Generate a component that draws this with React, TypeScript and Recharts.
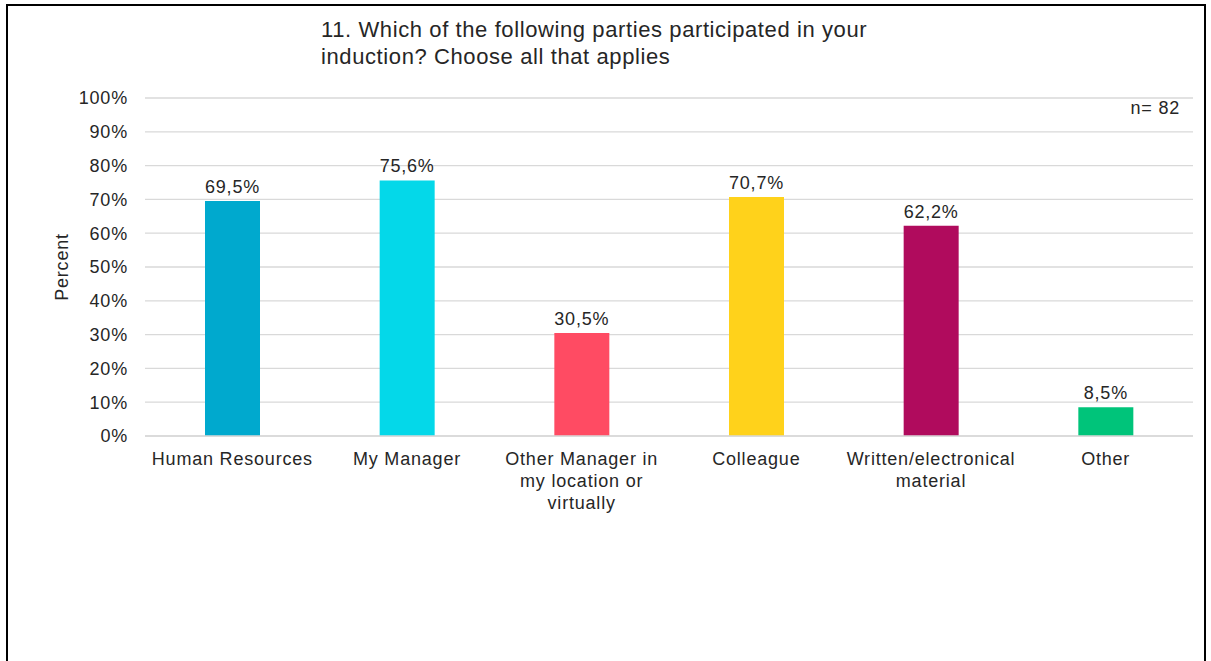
import { BarChart, Bar, XAxis, YAxis, CartesianGrid, LabelList, Cell } from 'recharts'

const categories = ['Human Resources', 'My Manager', 'Other Manager in my location or virtually', 'Colleague', 'Written/electronical material', 'Other']
const tickLines = [
  ['Human Resources'],
  ['My Manager'],
  ['Other Manager in', 'my location or', 'virtually'],
  ['Colleague'],
  ['Written/electronical', 'material'],
  ['Other'],
]
const percents = [69.5, 75.6, 30.5, 70.7, 62.2, 8.5]
const barColors = ['#00a9ce', '#04d8e9', '#ff4b63', '#ffd21b', '#b00b5d', '#00c47a']
const yTicks = [0, 10, 20, 30, 40, 50, 60, 70, 80, 90, 100]
const titleLines = ['11. Which of the following parties participated in your', 'induction? Choose all that applies']

const font = '"Liberation Sans", Arial, sans-serif'
const textColor = '#262626'
const spacing = 0.8

const chartData = categories.map((name, i) => ({ name, value: percents[i], idx: i }))

function CategoryTick({ x, y, payload }: any) {
  const lines = tickLines[payload.index] || [payload.value]
  return (
    <text x={x} y={y} textAnchor="middle" fill={textColor} fontSize={18} fontFamily={font} letterSpacing={spacing}>
      {lines.map((line, i) => (
        <tspan key={i} x={x} dy={i === 0 ? 21 : 22}>{line}</tspan>
      ))}
    </text>
  )
}

export default function App() {
  return (
    <div style={{ position: 'absolute', left: 0, top: 0, width: 1211, height: 661, overflow: 'hidden', background: '#fff', fontFamily: font }}>
      <div style={{ position: 'absolute', left: 6, top: 4, width: 1196, height: 700, border: '2px solid #000' }} />
      <div style={{ position: 'absolute', left: 0, top: 0 }}>
        <BarChart width={1211} height={661} data={chartData} margin={{ top: 98, right: 18, bottom: 0, left: 0 }} barSize={55}>
          <text x={321} y={37} fontSize={22} fill={textColor} fontFamily={font} letterSpacing={0.6}>{titleLines[0]}</text>
          <text x={321} y={64} fontSize={22} fill={textColor} fontFamily={font} letterSpacing={0.6}>{titleLines[1]}</text>
          <text x={1180} y={114} fontSize={18} fill={textColor} fontFamily={font} letterSpacing={spacing} textAnchor="end">n= 82</text>
          <CartesianGrid vertical={false} stroke="#d9d9d9" strokeWidth={1.3} />
          <XAxis
            dataKey="name"
            height={225}
            axisLine={{ stroke: '#d9d9d9', strokeWidth: 1.3 }}
            tickLine={false}
            interval={0}
            tick={<CategoryTick />}
          />
          <YAxis
            width={145}
            domain={[0, 100]}
            ticks={yTicks}
            axisLine={false}
            tickLine={false}
            tickSize={0}
            tickMargin={17}
            tickFormatter={(v: number) => `${v}%`}
            tick={{ fontSize: 18, fill: textColor, fontFamily: font, letterSpacing: spacing }}
            label={{ value: 'Percent', angle: -90, position: 'insideLeft', offset: 62, style: { fontSize: 18, fill: textColor, fontFamily: font, letterSpacing: spacing, textAnchor: 'middle' } }}
          />
          <Bar dataKey="value" isAnimationActive={false}>
            {chartData.map((d) => (
              <Cell key={d.name} fill={barColors[d.idx]} />
            ))}
            <LabelList
              dataKey="value"
              position="top"
              offset={8}
              formatter={(v: any) => `${Number(v).toFixed(1).replace('.', ',')}%`}
              style={{ fontSize: 18, fill: textColor, fontFamily: font, letterSpacing: spacing }}
            />
          </Bar>
        </BarChart>
      </div>
    </div>
  )
}
